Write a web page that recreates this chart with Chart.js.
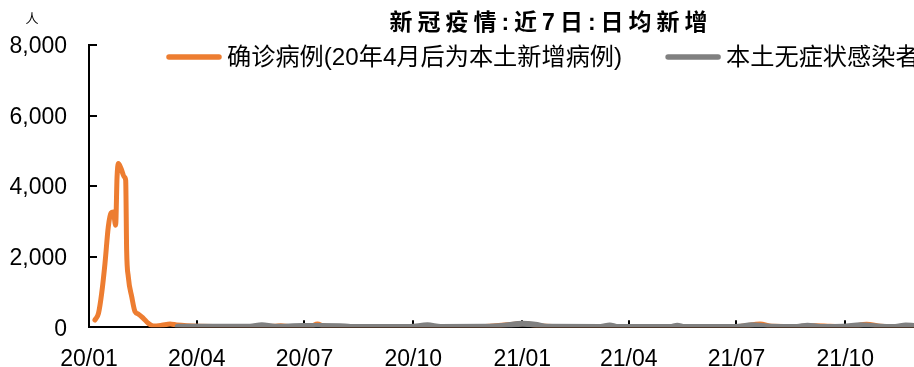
<!DOCTYPE html>
<html>
<head>
<meta charset="utf-8">
<script src="https://cdn.jsdelivr.net/npm/chart.js@4.4.1/dist/chart.umd.min.js"></script>
<style>
  html, body { margin: 0; padding: 0; background: #fff; }
  canvas { display: block; }
</style>
</head>
<body>
<canvas id="c" width="914" height="367"></canvas>
<script>
// ---- data (x = days since 2020-01-01) ----
const titleText = '新冠疫情:近7日:日均新增';
const unitText = '人';
const seriesNames = ['确诊病例(20年4月后为本土新增病例)', '本土无症状感染者'];

const confirmedDays = [5, 8, 10.7, 13.5, 16.3, 18.6, 20.5, 22.5, 23.7, 24.8, 27.1, 29.9, 31, 31.8, 33.2, 36.1, 38.9, 41.7, 45.9, 50.1, 54.4, 61.4, 68.5, 74.1,
  119, 157, 162, 170, 187, 193, 199, 212, 263, 276, 297, 335, 360, 369, 377, 398, 449, 516, 550, 567, 577, 601, 614, 626, 643, 657, 669, 677, 697];
const confirmedValues = [206, 396, 962, 1810, 2846, 3242, 3270, 2894, 4260, 4640, 4498, 4260, 4167, 2187, 1431, 866, 441, 376, 255, 113, 37, 57, 93, 65,
  20, 30, 45, 20, 30, 90, 30, 20, 20, 25, 25, 25, 90, 110, 50, 20, 20, 20, 25, 95, 30, 25, 45, 30, 20, 85, 30, 25, 25];

const asymDays = [75, 119, 136, 146, 157, 181, 195, 212, 221, 271, 286, 297, 335, 352, 366, 377, 387, 432, 440, 446, 491, 497, 503, 546, 560, 576, 598, 607, 618, 637, 652, 669, 681, 690, 697];
const asymValues = [15, 15, 15, 60, 15, 35, 35, 30, 10, 10, 55, 10, 15, 50, 100, 70, 15, 10, 50, 10, 10, 45, 10, 10, 55, 15, 10, 45, 10, 15, 55, 15, 10, 50, 40];

const tickDays = [0, 91, 182, 274, 366, 456, 547, 639];
const tickLabels = ['20/01', '20/04', '20/07', '20/10', '21/01', '21/04', '21/07', '21/10'];
const yTicks = [0, 2000, 4000, 6000, 8000];

const ORANGE = '#ED7D31';
const GRAY = '#808080';
const FONT = '"Liberation Sans", Arial, "Noto Sans CJK SC", sans-serif';

const toPoints = (xs, ys) => xs.map((x, i) => ({ x: x, y: ys[i] }));

const overlay = {
  id: 'overlay',
  afterDraw(chart) {
    const ctx = chart.ctx;
    ctx.save();
    // title
    ctx.fillStyle = '#000';
    ctx.font = 'bold 23px ' + FONT;
    ctx.textAlign = 'center';
    ctx.textBaseline = 'middle';
    try { ctx.letterSpacing = '5px'; } catch (e) {}
    ctx.fillText(titleText, 551, 24);
    try { ctx.letterSpacing = '0px'; } catch (e) {}
    // unit
    ctx.font = '13px ' + FONT;
    ctx.fillText(unitText, 32, 19);
    // legend
    ctx.font = '24.2px ' + FONT;
    ctx.textAlign = 'left';
    let x = 167;
    const y = 57;
    chart.data.datasets.forEach((ds) => {
      ctx.strokeStyle = ds.borderColor;
      ctx.lineWidth = 5.5;
      ctx.lineCap = 'round';
      ctx.beginPath();
      ctx.moveTo(x + 2, y);
      ctx.lineTo(x + 52, y);
      ctx.stroke();
      ctx.fillStyle = '#000';
      ctx.fillText(ds.label, x + 60, y + 1);
      x = x + 60 + ctx.measureText(ds.label).width + 44;
    });
    ctx.restore();
  }
};

new Chart(document.getElementById('c'), {
  type: 'line',
  data: {
    datasets: [
      {
        label: seriesNames[0],
        data: toPoints(confirmedDays, confirmedValues),
        borderColor: ORANGE,
        backgroundColor: ORANGE,
        borderWidth: 5,
        pointRadius: 0,
        cubicInterpolationMode: 'monotone',
        borderCapStyle: 'round',
        borderJoinStyle: 'round',
        order: 2
      },
      {
        label: seriesNames[1],
        data: toPoints(asymDays, asymValues),
        borderColor: GRAY,
        backgroundColor: GRAY,
        borderWidth: 6,
        pointRadius: 0,
        cubicInterpolationMode: 'monotone',
        borderCapStyle: 'round',
        borderJoinStyle: 'round',
        order: 1
      }
    ]
  },
  options: {
    responsive: false,
    animation: false,
    events: [],
    layout: { padding: { top: 45, right: 0, bottom: 0, left: 0 } },
    plugins: {
      legend: { display: false },
      title: { display: false },
      tooltip: { enabled: false }
    },
    scales: {
      x: {
        type: 'linear',
        min: 0,
        max: 697,
        afterBuildTicks(scale) { scale.ticks = tickDays.map(v => ({ value: v })); },
        afterFit(scale) { scale.height = 39.7; },
        ticks: {
          autoSkip: false,
          maxRotation: 0,
          minRotation: 0,
          padding: 25.5,
          color: '#000',
          font: { family: FONT, size: 23 },
          callback(v) { const i = tickDays.indexOf(v); return i >= 0 ? tickLabels[i] : ''; }
        },
        grid: { display: true, drawOnChartArea: false, drawTicks: true, tickLength: -7, color: '#000', lineWidth: 2 },
        border: { display: true, color: '#000', width: 2 }
      },
      y: {
        type: 'linear',
        min: 0,
        max: 8000,
        afterBuildTicks(scale) { scale.ticks = yTicks.map(v => ({ value: v })); },
        afterFit(scale) { scale.width = 89; scale.paddingTop = 10; scale.paddingBottom = 10; },
        ticks: {
          padding: 30,
          labelOffset: 2,
          color: '#000',
          font: { family: FONT, size: 23 },
          callback(v) { return v.toLocaleString('en-US'); }
        },
        grid: { display: true, drawOnChartArea: false, drawTicks: true, tickLength: -8, color: '#000', lineWidth: 2 },
        border: { display: true, color: '#000', width: 2 }
      }
    }
  },
  plugins: [overlay]
});
</script>
</body>
</html>
